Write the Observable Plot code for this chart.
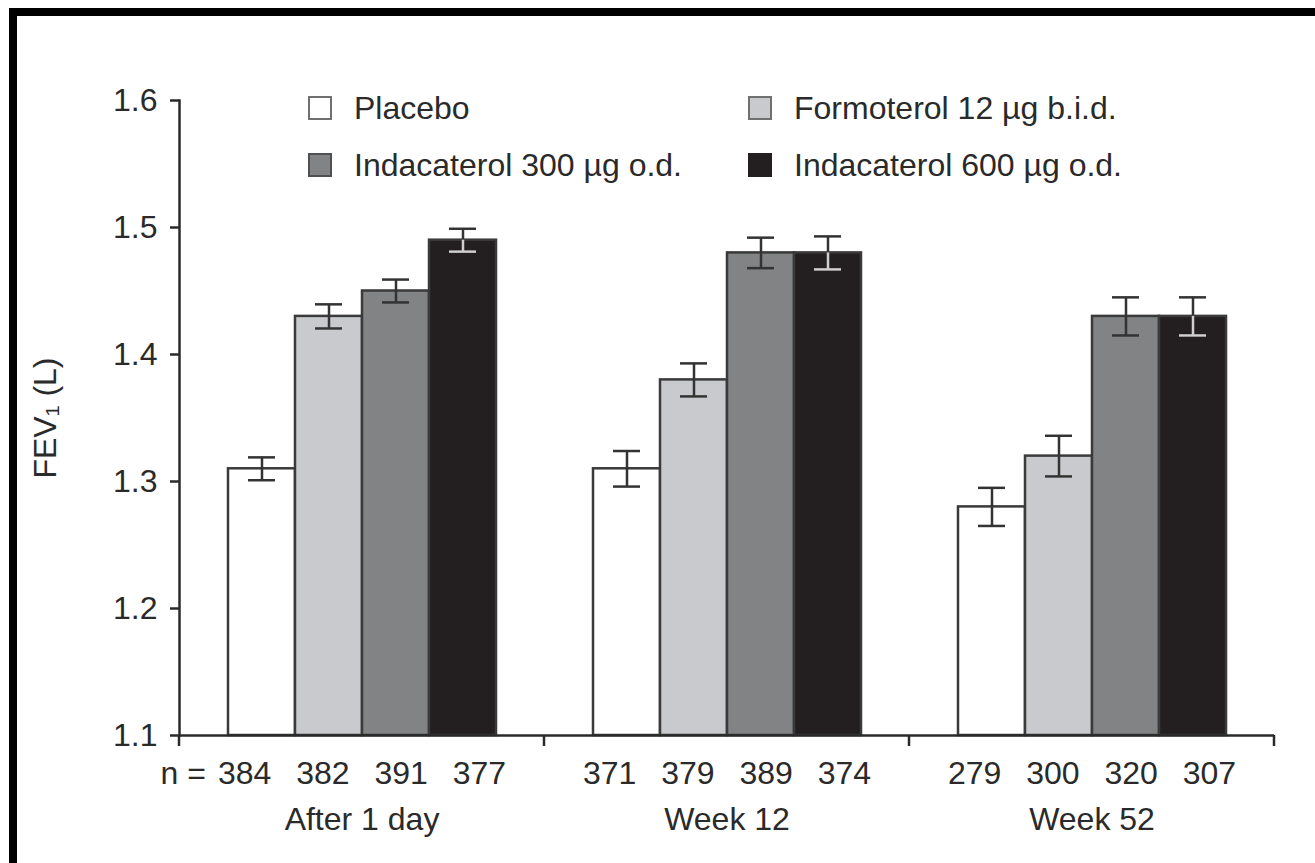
<!DOCTYPE html>
<html>
<head>
<meta charset="utf-8">
<script src="https://cdn.jsdelivr.net/npm/d3@7"></script>
<script src="https://cdn.jsdelivr.net/npm/@observablehq/plot@0.6"></script>
<style>
  html, body { margin: 0; padding: 0; background: #fff; }
  body { width: 1315px; height: 863px; position: relative; overflow: hidden;
         font-family: "Liberation Sans", Arial, Helvetica, sans-serif; color: #2a2a2a; }
  #frame { position: absolute; left: 9px; top: 8px; width: 1320px; height: 870px;
           border-top: 8px solid #000; border-left: 8px solid #000; box-sizing: border-box; }
  #chart { position: absolute; left: 0; top: 0; }
  #legend { position: absolute; left: 308px; top: 95px; display: grid;
            grid-template-columns: 440px auto; row-gap: 31px; font-size: 32px; }
  .item { display: flex; align-items: center; height: 26px; gap: 22px; }
  .sw { width: 20px; height: 20px; border: 2px solid #6a6a6a; flex: none; }
</style>
</head>
<body>
<div id="frame"></div>
<div id="chart"></div>
<div id="legend"></div>
<script>
// ---- data ----
const timepoints = ["After 1 day", "Week 12", "Week 52"];
const treatments = ["Placebo", "Formoterol 12 µg b.i.d.", "Indacaterol 300 µg o.d.", "Indacaterol 600 µg o.d."];
const fevAfter1Day = [1.31, 1.43, 1.45, 1.49];
const fevWeek12    = [1.31, 1.38, 1.48, 1.48];
const fevWeek52    = [1.28, 1.32, 1.43, 1.43];
const errAfter1Day = [0.009, 0.0095, 0.009, 0.009];
const errWeek12    = [0.014, 0.013, 0.012, 0.013];
const errWeek52    = [0.015, 0.016, 0.015, 0.015];
const nAfter1Day = [384, 382, 391, 377];
const nWeek12    = [371, 379, 389, 374];
const nWeek52    = [279, 300, 320, 307];
const nPrefix = "n =";
const yDomain = [1.1, 1.6];
const yTicks = [1.1, 1.2, 1.3, 1.4, 1.5, 1.6];
const yLabel = "FEV₁ (L)";
const barColors = ["#ffffff", "#c9cacd", "#818385", "#231f20"];
const swatchBorders = ["#707070", "#707070", "#505050", "#231f20"];

// ---- build table ----
const fevs = [fevAfter1Day, fevWeek12, fevWeek52];
const errs = [errAfter1Day, errWeek12, errWeek52];
const ns = [nAfter1Day, nWeek12, nWeek52];
const rows = timepoints.flatMap((t, ti) => treatments.map((tr, i) => ({
  time: t, treatment: tr, value: fevs[ti][i], err: errs[ti][i]
})));
const dark = (d) => d.treatment !== treatments[3];

const ink = "#2a2a2a";
const fontSize = 32;

// downward ticks at the group boundaries on the x axis
const boundaryData = timepoints.map((t, i) => ({time: t, y: yDomain[0], last: i === timepoints.length - 1}));
const boundaryTicks = Plot.ruleY(boundaryData, {
  fx: "time",
  y: "y",
  render(index, scales, values, dimensions) {
    const {width, height, marginLeft, marginRight, marginBottom} = dimensions;
    const y0 = height - marginBottom;
    const g = d3.create("svg:g").attr("stroke", ink).attr("stroke-width", 2.5);
    const xs = [marginLeft];
    if (Array.from(index).some(i => boundaryData[i].last)) xs.push(width - marginRight);
    for (const x of xs) g.append("line").attr("x1", x).attr("x2", x).attr("y1", y0).attr("y2", y0 + 11);
    return g.node();
  }
});

const chart = Plot.plot({
  width: 1315,
  height: 863,
  marginLeft: 178,
  marginRight: 40,
  marginTop: 100,
  marginBottom: 128,
  style: {fontFamily: "'Liberation Sans', Arial, Helvetica, sans-serif", fontSize: fontSize + "px", color: ink, background: "transparent", overflow: "visible"},
  fx: {domain: timepoints, padding: 0, label: null},
  x: {domain: treatments, paddingInner: 0, paddingOuter: 0.7, axis: null},
  y: {domain: yDomain, label: null},
  color: {domain: treatments, range: barColors},
  marks: [
    Plot.barY(rows, {fx: "time", x: "treatment", y1: yDomain[0], y2: "value", fill: "treatment", stroke: "#3a3a3a", strokeWidth: 2.5}),
    // upper error bars
    Plot.ruleX(rows, {fx: "time", x: "treatment", y1: "value", y2: d => d.value + d.err, stroke: "#333", strokeWidth: 2.5}),
    Plot.tickY(rows, {fx: "time", x: "treatment", y: d => d.value + d.err, stroke: "#333", strokeWidth: 2.5, insetLeft: 20, insetRight: 20}),
    // lower error bars
    Plot.ruleX(rows.filter(dark), {fx: "time", x: "treatment", y1: d => d.value - d.err, y2: "value", stroke: "#333", strokeWidth: 2.5}),
    Plot.tickY(rows.filter(dark), {fx: "time", x: "treatment", y: d => d.value - d.err, stroke: "#333", strokeWidth: 2.5, insetLeft: 20, insetRight: 20}),
    Plot.ruleX(rows.filter(d => !dark(d)), {fx: "time", x: "treatment", y1: d => d.value - d.err, y2: "value", stroke: "#cfcfcf", strokeWidth: 2.5}),
    Plot.tickY(rows.filter(d => !dark(d)), {fx: "time", x: "treatment", y: d => d.value - d.err, stroke: "#cfcfcf", strokeWidth: 2.5, insetLeft: 20, insetRight: 20}),
    // axes
    Plot.ruleY([yDomain[0]], {stroke: ink, strokeWidth: 2.5}),
    Plot.frame({anchor: "left", facetAnchor: "left", stroke: ink, strokeWidth: 2.5}),
    boundaryTicks,
    Plot.axisY({ticks: yTicks, tickFormat: d => d.toFixed(1), tickSize: 9, tickPadding: 13, strokeWidth: 2.5,
      fontSize, label: yLabel, labelAnchor: "center", labelOffset: 146, labelArrow: "none"}),
    Plot.axisFx({anchor: "bottom", tickSize: 0, tickPadding: 72, fontSize, label: null}),
    // n labels
    Plot.text(timepoints, {fx: d => d, text: (d, i) => ns[i].join("\u2002 "), frameAnchor: "bottom", dy: 38, lineAnchor: "middle", fontSize, fill: ink}),
    Plot.text([nPrefix], {fx: () => timepoints[0], text: d => d, frameAnchor: "bottom-left", textAnchor: "start", dx: -19, dy: 38, lineAnchor: "middle", fontSize, fill: ink})
  ]
});
document.getElementById("chart").appendChild(chart);

// legend (overlaid within plot area, two columns)
const legend = document.getElementById("legend");
for (let i = 0; i < treatments.length; i++) {
  const item = document.createElement("div");
  item.className = "item";
  const sw = document.createElement("span");
  sw.className = "sw";
  sw.style.background = barColors[i];
  sw.style.borderColor = swatchBorders[i];
  const label = document.createElement("span");
  label.textContent = treatments[i];
  item.append(sw, label);
  legend.appendChild(item);
}
</script>
</body>
</html>
